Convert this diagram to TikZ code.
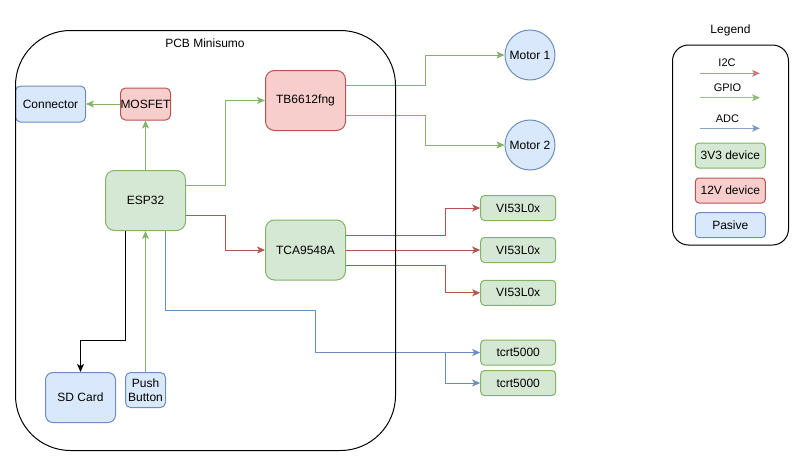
\documentclass[tikz,border=0pt]{standalone}
\usepackage{fontspec}
\setmainfont{Liberation Sans}
\usetikzlibrary{arrows.meta}
\definecolor{gfill}{HTML}{D5E8D4}
\definecolor{gline}{HTML}{82B366}
\definecolor{rfill}{HTML}{F8CECC}
\definecolor{rline}{HTML}{B85450}
\definecolor{bfill}{HTML}{DAE8FC}
\definecolor{bline}{HTML}{6C8EBF}
\begin{document}
\begin{tikzpicture}[x=1pt,y=-1pt,line width=1pt,
  font=\fontsize{12}{14.5}\selectfont,
  box/.style={draw, inner sep=0pt, align=center, text=black},
  gbox/.style={box, fill=gfill, draw=gline},
  rbox/.style={box, fill=rfill, draw=rline},
  bbox/.style={box, fill=bfill, draw=bline},
  big/.style={minimum width=80pt, minimum height=60pt, rounded corners=9pt},
  sens/.style={minimum width=75pt, minimum height=25pt, rounded corners=3.75pt},
  lbox/.style={minimum width=70pt, minimum height=25pt, rounded corners=3.75pt},
  motor/.style={circle, draw=bline, fill=bfill, minimum size=50pt, inner sep=0pt},
  tip/.style={-{Stealth[length=8pt,width=7pt,inset=2pt]}},
  gpio/.style={draw=gline, tip},
  itc/.style={draw=rline, tip},
  adc/.style={draw=bline, tip},
  sdl/.style={draw=black, tip},
  lab/.style={font=\fontsize{11}{13}\selectfont, inner sep=0pt}
]
\useasboundingbox (0,0) rectangle (804,466);

% nodes inside PCB
\node[bbox, minimum width=70pt, minimum height=36pt, rounded corners=5pt] (conn) at (50.5,104) {Connector};
\node[rbox, minimum width=50pt, minimum height=32pt, rounded corners=5pt] (mosfet) at (145.5,104) {MOSFET};
\node[rbox, big] (tb) at (305.5,100.5) {TB6612fng};
\node[gbox, big] (esp) at (145.5,200.5) {ESP32};
\node[gbox, big] (tca) at (305.5,250) {TCA9548A};
\node[bbox, minimum width=70pt, minimum height=50pt, rounded corners=7.5pt] (sd) at (80.5,397.5) {SD Card};
\node[bbox, minimum width=40pt, minimum height=35pt, rounded corners=5pt] (pb) at (145.5,390) {Push\\Button};

% outside nodes
\node[motor] (m1) at (530,55) {Motor 1};
\node[motor] (m2) at (530,145) {Motor 2};
\node[gbox, sens] (vi1) at (518.2,208) {VI53L0x};
\node[gbox, sens] (vi2) at (518.2,250) {VI53L0x};
\node[gbox, sens] (vi3) at (518.2,292.8) {VI53L0x};
\node[gbox, sens] (tc1) at (518.2,352.5) {tcrt5000};
\node[gbox, sens] (tc2) at (518.2,383) {tcrt5000};

% waypoints
\coordinate (w1) at (225.5,185);
\coordinate (w2) at (225.5,215);
\coordinate (w3) at (125.5,340);
\coordinate (w4) at (165.5,310.5);
\coordinate (w5) at (315.5,352.5);
\coordinate (w6) at (445.5,352.5);
\coordinate (w7) at (425.5,85.5);
\coordinate (w8) at (425.5,115.5);
\coordinate (w9) at (445.5,235);
\coordinate (w10) at (445.5,265);

% connectors
\draw[gpio] (mosfet.west) -- (conn.east);
\draw[gpio] (esp.north) -- (mosfet.south);
\draw[gpio] (esp.east |- w1) -- (w1) |- (tb.west);
\draw[itc] (esp.east |- w2) -- (w2) |- (tca.west);
\draw[sdl] (esp.south -| w3) -- (w3) -| (sd.north);
\draw[gpio] (pb.north) -- (esp.south);
\draw[adc] (esp.south -| w4) -- (w4) -| (w5) -- (tc1.west);
\draw[adc] (w6) |- (tc2.west);
\draw[gpio] (tb.east |- w7) -- (w7) |- (m1.west);
\draw[gpio] (tb.east |- w8) -- (w8) |- (m2.west);
\draw[itc] (tca.east |- w9) -- (w9) |- (vi1.west);
\draw[itc] (tca.east) -- (vi2.west);
\draw[itc] (tca.east |- w10) -- (w10) |- (vi3.west);

% PCB frame
\node[draw, minimum width=380pt, minimum height=420pt, rounded corners=55pt, inner sep=0pt] (pcb) at (205.5,240.5) {};
\node (pcbt) at (205,43) {PCB Minisumo};

% legend
\node (legt) at (730.5,30) {Legend};
\node[draw, minimum width=116pt, minimum height=200pt, rounded corners=16pt, inner sep=0pt] (leg) at (730.5,145) {};
\node[lab] (li2c) at (727,63) {I2C};
\node[lab] (lgpio) at (727.5,87.7) {GPIO};
\node[lab] (ladc) at (727.5,118.3) {ADC};
\coordinate (a1) at (700,73.3); \coordinate (b1) at (760,73.3);
\coordinate (a2) at (700,97.7); \coordinate (b2) at (760,97.7);
\coordinate (a3) at (700,128.3); \coordinate (b3) at (760,128.3);
\draw[itc, opacity=0.65] (a1) -- (b1);
\draw[gpio, opacity=0.8] (a2) -- (b2);
\draw[adc, opacity=0.8] (a3) -- (b3);
\node[gbox, lbox] (l3v3) at (730.3,155.5) {3V3 device};
\node[rbox, lbox] (l12v) at (730.3,190.5) {12V device};
\node[bbox, lbox] (lpas) at (730.3,225.2) {Pasive};
\end{tikzpicture}
\end{document}
